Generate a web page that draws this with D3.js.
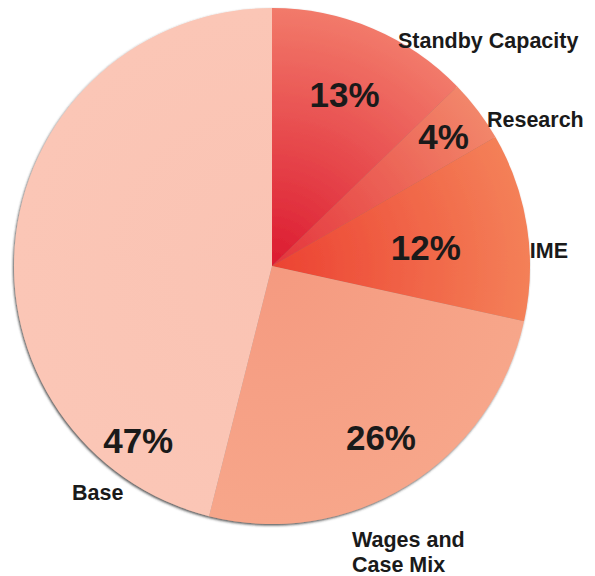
<!DOCTYPE html>
<html>
<head>
<meta charset="utf-8">
<script src="https://cdn.jsdelivr.net/npm/d3@7"></script>
<style>
  body { margin: 0; background: #fff; }
  text { font-family: "Liberation Sans", Arial, sans-serif; font-weight: bold; fill: #1a1a1a; }
</style>
</head>
<body>
<div id="chart"></div>
<script>
// slices, clockwise from 12 o'clock
var categories = ["Standby Capacity", "Research", "IME", "Wages and Case Mix", "Base"];
var shares = [13, 4, 12, 26, 47];
var pctLabels = ["13%", "4%", "12%", "26%", "47%"];

var width = 595, height = 576;
var cx = 272, cy = 266, radius = 258;

// gradient stops (inner, outer) per slice
var colInner = ["#dc1a30", "#e4343c", "#ec4232", "#f59a80", "#fac3b3"];
var colOuter = ["#f27a6a", "#f2866a", "#f48058", "#f7a68a", "#fbc6b6"];

// label placement: [angle offset from slice middle (deg), distance]
var pctPos = [[0, 186], [0, 215], [2, 155], [-0.7, 203], [-59.6, 220]];
// category label: [angle (deg, clockwise from north), distance]
var catPos = [[30, 252], [57.1, 256], [88.2, 258], [164.1, 292], [220.5, 308]];

var svg = d3.select("#chart").append("svg").attr("width", width).attr("height", height);
var defs = svg.append("defs");

var shadow = defs.append("filter").attr("id", "shadow")
  .attr("x", "-10%").attr("y", "-10%").attr("width", "120%").attr("height", "120%");
shadow.append("feDropShadow").attr("dx", -1).attr("dy", 1.5)
  .attr("stdDeviation", 0.8).attr("flood-color", "#333").attr("flood-opacity", 0.8);

categories.forEach(function(c, i) {
  var g = defs.append("radialGradient").attr("id", "grad" + i)
    .attr("gradientUnits", "userSpaceOnUse")
    .attr("cx", 0).attr("cy", 0).attr("r", radius);
  g.append("stop").attr("offset", "0%").attr("stop-color", colInner[i]);
  g.append("stop").attr("offset", "100%").attr("stop-color", colOuter[i]);
});

var g = svg.append("g").attr("transform", "translate(" + cx + "," + cy + ")");

var pie = d3.pie().sort(null).value(function(d) { return d; });
var arcs = pie(shares);
var arc = d3.arc().innerRadius(0).outerRadius(radius);

var slices = g.append("g").attr("filter", "url(#shadow)");
slices.selectAll("path").data(arcs).enter().append("path")
  .attr("d", arc)
  .attr("fill", function(d, i) { return "url(#grad" + i + ")"; });

function polar(angDeg, dist) {
  var a = angDeg * Math.PI / 180;
  return [dist * Math.sin(a), -dist * Math.cos(a)];
}

// percentages
g.selectAll(".pct").data(arcs).enter().append("text")
  .attr("class", "pct")
  .attr("text-anchor", "middle")
  .attr("dy", "0.36em")
  .style("font-size", "35px")
  .attr("transform", function(d, i) {
    var mid = (d.startAngle + d.endAngle) / 2 * 180 / Math.PI;
    var p = polar(mid + pctPos[i][0], pctPos[i][1]);
    return "translate(" + p[0] + "," + p[1] + ")";
  })
  .text(function(d, i) { return pctLabels[i]; });

// category names
categories.forEach(function(c, i) {
  var p = polar(catPos[i][0], catPos[i][1]);
  var t = g.append("text").attr("x", p[0]).attr("y", p[1]).style("font-size", "21.5px");
  var lines = c == "Wages and Case Mix" ? ["Wages and", "Case Mix"] : [c];
  lines.forEach(function(l, j) {
    t.append("tspan").attr("x", p[0]).attr("dy", j == 0 ? 0 : 25).text(l);
  });
});
</script>
</body>
</html>
